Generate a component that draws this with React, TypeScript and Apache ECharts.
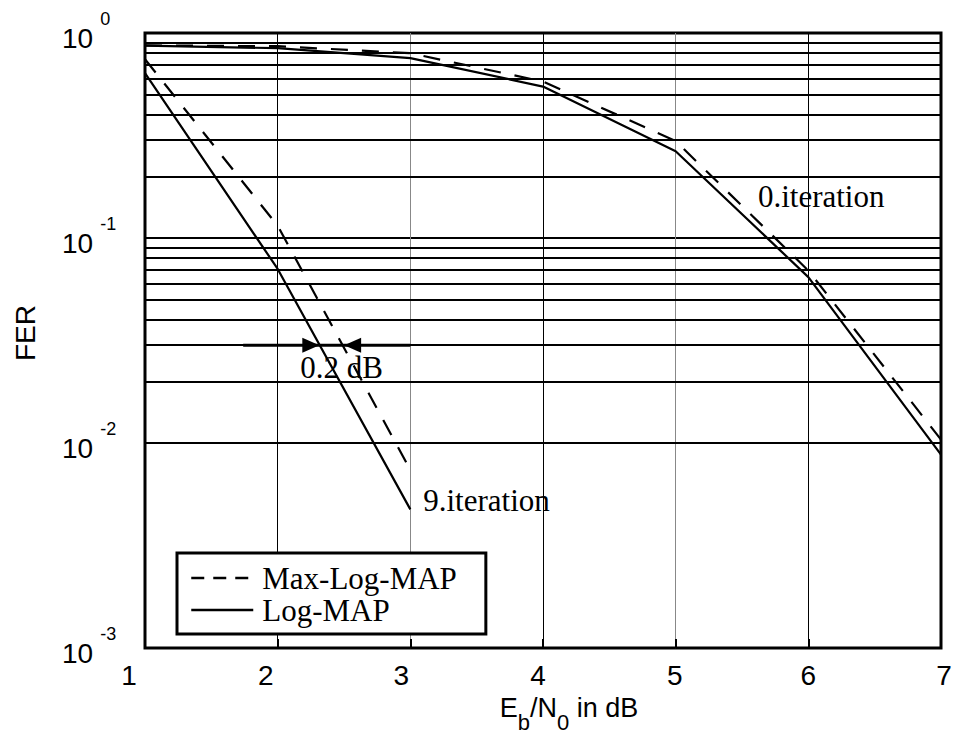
import React, { useEffect, useRef } from "react";
import * as echarts from "echarts";

// ---- data ----
const xTicks = [1, 2, 3, 4, 5, 6, 7];
const xLabelShift = [-16, -12, -9, -5, -1, 0, 3];
const minorGrid = [
  0.9, 0.8, 0.7, 0.6, 0.5, 0.4, 0.3, 0.2,
  0.09, 0.08, 0.07, 0.06, 0.05, 0.04, 0.03, 0.02,
  0.009, 0.008, 0.007, 0.006, 0.005, 0.004, 0.003, 0.002,
];

const ebn0Iter0 = [1, 2, 3, 4, 5, 6, 7];
const logMapIter0 = [0.868, 0.843, 0.754, 0.548, 0.265, 0.0645, 0.00878];
const maxLogMapIter0 = [0.87, 0.862, 0.797, 0.58, 0.297, 0.0694, 0.0104];

const ebn0Iter9 = [1, 2, 3];
const logMapIter9 = [0.637, 0.0707, 0.00475];
const maxLogMapIter9 = [0.745, 0.1148, 0.0074];

const gapFER = 0.03;
const gapLineX = [1.74, 3];
const arrowX = [2.25, 2.565];

const annotationTexts = ["0.iteration", "0.2 dB", "9.iteration"];
const annotationX = [5.62, 2.17, 3.097];
const annotationY = [0.159, 0.0234, 0.00526];

const SANS = "Liberation Sans, Arial, sans-serif";
const SERIF = "Liberation Serif, Times New Roman, serif";

export default function App() {
  const ref = useRef<HTMLDivElement>(null);

  useEffect(() => {
    if (!ref.current) return;
    const chart = echarts.init(ref.current, undefined, { renderer: "svg" });

    const xRich: Record<string, any> = {};
    xLabelShift.forEach((s, i) => {
      xRich["r" + i] = {
        fontFamily: SANS,
        fontSize: 28,
        color: "#000",
        padding: s < 0 ? [0, -2 * s, 0, 0] : [0, 0, 0, 2 * s],
      };
    });

    const dash = [17, 14];

    const option: any = {
      animation: false,
      backgroundColor: "#fff",
      textStyle: { fontFamily: SANS, color: "#000" },
      grid: {
        left: 145,
        top: 33,
        right: 16,
        bottom: 87,
        show: true,
        borderColor: "#000",
        borderWidth: 3,
        backgroundColor: "transparent",
      },
      xAxis: {
        type: "value",
        min: 1,
        max: 7,
        interval: 1,
        name: "{m|E}{sb|b}{m|/N}{sb|0}{m| in dB}",
        nameLocation: "middle",
        nameGap: 45,
        nameTextStyle: {
          padding: [0, 0, 0, 52],
          rich: {
            m: { fontFamily: SANS, fontSize: 27, lineHeight: 27, color: "#000", verticalAlign: "top" },
            sb: { fontFamily: SANS, fontSize: 22, lineHeight: 22, color: "#000", verticalAlign: "top", padding: [17, 0, 0, 0] },
          },
        },
        axisLine: { show: false },
        axisTick: { show: true, inside: true, length: 9, lineStyle: { color: "#000", width: 2 } },
        axisLabel: {
          margin: 13,
          formatter: (v: number) => {
            const i = xTicks.indexOf(v);
            return `{r${i < 0 ? 0 : i}|${v}}`;
          },
          rich: xRich,
        },
        splitLine: {
          show: true,
          lineStyle: { color: ["#000", "#000", "#888", "#000", "#888", "#000", "#000"], width: 1 },
        },
      },
      yAxis: {
        type: "log",
        logBase: 10,
        min: 0.001,
        max: 1,
        name: "FER",
        nameLocation: "middle",
        nameRotate: 90,
        nameGap: 106,
        nameTextStyle: { fontFamily: SANS, fontSize: 28, color: "#000", padding: [0, 0, 0, 15] },
        axisLine: { show: false },
        axisTick: { show: false },
        axisLabel: {
          align: "left",
          margin: 83,
          formatter: (v: number) => `{b|10}{s|${Math.round(Math.log10(v))}}`,
          rich: {
            b: { fontFamily: SANS, fontSize: 28, color: "#000", verticalAlign: "top", padding: [14, 0, 4, 0] },
            s: { fontFamily: SANS, fontSize: 18, color: "#000", verticalAlign: "top", padding: [0, 0, 0, 7] },
          },
        },
        splitLine: { show: true, lineStyle: { color: "#000", width: 2 } },
      },
      legend: {
        orient: "vertical",
        left: 177,
        top: 553,
        padding: [9, 29, 8, 13],
        itemGap: 0,
        itemWidth: 62,
        itemHeight: 14,
        backgroundColor: "#fff",
        borderColor: "#000",
        borderWidth: 3,
        itemStyle: { opacity: 0, borderWidth: 0 },
        textStyle: { fontFamily: SERIF, fontSize: 31, lineHeight: 32, color: "#000", padding: [0, 0, 0, 4] },
        data: [
          { name: "Max-Log-MAP", lineStyle: { type: [13, 9], width: 2.5 } },
          { name: "Log-MAP", lineStyle: { width: 2.5 } },
        ],
        z: 10,
      },
      series: [
        {
          name: "grid",
          type: "line",
          data: [],
          silent: true,
          z: 1,
          markLine: {
            silent: true,
            symbol: ["none", "none"],
            label: { show: false },
            lineStyle: { color: "#000", width: 2, type: "solid" },
            data: minorGrid.map((v) => ({ yAxis: v })),
          },
        },
        {
          name: "Max-Log-MAP",
          type: "line",
          symbol: "none",
          z: 3,
          lineStyle: { color: "#000", width: 2.2, type: dash },
          itemStyle: { color: "#000" },
          data: ebn0Iter0.map((x, i) => [x, maxLogMapIter0[i]]),
        },
        {
          name: "Log-MAP",
          type: "line",
          symbol: "none",
          z: 3,
          lineStyle: { color: "#000", width: 2.2, type: "solid" },
          itemStyle: { color: "#000" },
          data: ebn0Iter0.map((x, i) => [x, logMapIter0[i]]),
        },
        {
          name: "Max-Log-MAP",
          type: "line",
          symbol: "none",
          z: 3,
          lineStyle: { color: "#000", width: 2.2, type: dash },
          itemStyle: { color: "#000" },
          data: ebn0Iter9.map((x, i) => [x, maxLogMapIter9[i]]),
        },
        {
          name: "Log-MAP",
          type: "line",
          symbol: "none",
          z: 3,
          lineStyle: { color: "#000", width: 2.2, type: "solid" },
          itemStyle: { color: "#000" },
          data: ebn0Iter9.map((x, i) => [x, logMapIter9[i]]),
        },
        {
          name: "gap",
          type: "line",
          symbol: "none",
          z: 3,
          lineStyle: { color: "#000", width: 3 },
          data: gapLineX.map((x) => [x, gapFER]),
        },
        {
          name: "arrows",
          type: "scatter",
          symbol: "triangle",
          symbolSize: [15, 17],
          z: 4,
          itemStyle: { color: "#000", opacity: 1 },
          data: arrowX.map((x, i) => ({ value: [x, gapFER], symbolRotate: i === 0 ? -90 : 90 })),
        },
        {
          name: "annotations",
          type: "scatter",
          symbolSize: 0,
          z: 5,
          itemStyle: { color: "#000", opacity: 1 },
          label: {
            show: true,
            position: "right",
            distance: 0,
            fontFamily: SERIF,
            fontSize: 31,
            color: "#000",
            opacity: 1,
            textBorderWidth: 0,
            formatter: (p: any) => p.name,
          },
          data: annotationTexts.map((t, i) => ({ name: t, value: [annotationX[i], annotationY[i]] })),
        },
      ],
    };

    chart.setOption(option);
    return () => chart.dispose();
  }, []);

  return (
    <div
      ref={ref}
      style={{ position: "absolute", left: 0, top: 0, width: 957, height: 738 }}
    />
  );
}
